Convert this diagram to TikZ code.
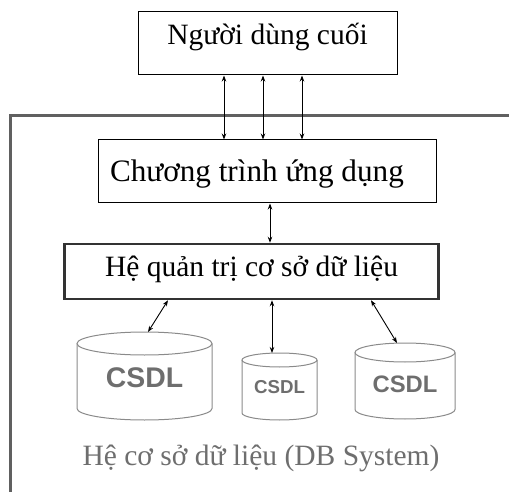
\documentclass[tikz,border=0pt]{standalone}
\usepackage{fontspec}
\setmainfont{Liberation Serif}
\newfontfamily\csdlfont{Liberation Sans}
\usetikzlibrary{arrows.meta,positioning,calc}
\definecolor{framegray}{HTML}{606060}
\definecolor{cylgray}{HTML}{8A8A8A}
\definecolor{txtgray}{HTML}{6E6E6E}
\tikzset{
  box/.style={draw,rectangle,inner sep=0pt,line width=1pt,font=\fontsize{29.5}{32}\selectfont,anchor=base},
  link/.style={{Stealth[length=6pt,width=4.5pt]}-{Stealth[length=6pt,width=4.5pt]},line width=0.9pt},
  cyl/.style={draw=cylgray,line width=1pt},
  csdl/.style={text=txtgray,inner sep=0pt,anchor=base}
}

\begin{document}
\begin{tikzpicture}[x=1pt,y=-1pt]
    \useasboundingbox (0,0) rectangle (509,492);
    % frame of the DB system
    \draw[framegray,line width=3pt] (10.5,492) -- (10.5,115.5) -- (509,115.5);
    \node [box,minimum width=259pt,text height=33pt,text depth=30pt] (user) at (267.5,45) {Người dùng cuối};
    \node [box,text width=338pt,align=flush left,text height=42pt,text depth=21pt,font=\fontsize{31.2}{32}\selectfont] (app) at (267,182) {\hspace*{12pt}Chương trình ứng dụng};
    \node [box,minimum width=374pt,text height=32pt,text depth=23pt,line width=2.5pt,draw=black!80] (dbms) at (251.5,276) {Hệ quản trị cơ sở dữ liệu};
    \foreach \dx in {-43.5,-4.5,34.5}
      \draw [link] ([xshift=\dx pt]user.south) -- ([xshift=\dx pt]user.south |- app.north);
    \draw [link] ([xshift=3pt]app.south) -- ([xshift=3pt]app.south |- dbms.north);
    % databases
    \foreach \n/\cx/\rx/\ty/\by/\ry/\fs/\bl in {db1/144.5/67.5/343.5/408.5/11.5/28.4/387,
        db2/279.5/37.5/360/413/7/18.7/393, db3/405/50/352.5/409.5/9.5/23.8/392} {
      \draw [cyl] (\cx,\ty) ellipse [x radius=\rx, y radius=\ry];
      \draw [cyl] (\cx-\rx,\ty) -- (\cx-\rx,\by) arc [start angle=180, end angle=0, x radius=\rx, y radius=\ry] -- (\cx+\rx,\ty);
      \node [csdl,font=\csdlfont\bfseries\fontsize{\fs}{\fs}\selectfont] (\n) at (\cx,\bl) {CSDL};
      \coordinate (\n-top) at (\cx,\ty-\ry);
    }
    \draw [link] ([xshift=-83.5pt]dbms.south) -- ([xshift=3.5pt]db1-top);
    \draw [link] ([xshift=20.5pt]dbms.south) -- ([xshift=20.5pt]dbms.south |- db2-top);
    \draw [link] ([xshift=119.5pt]dbms.south) -- ([xshift=-8pt]db3-top);
    \node [csdl,font=\fontsize{29.5}{32}\selectfont] (dbsys) at (261,465) {Hệ cơ sở dữ liệu (DB System)};
\end{tikzpicture}
\end{document}
